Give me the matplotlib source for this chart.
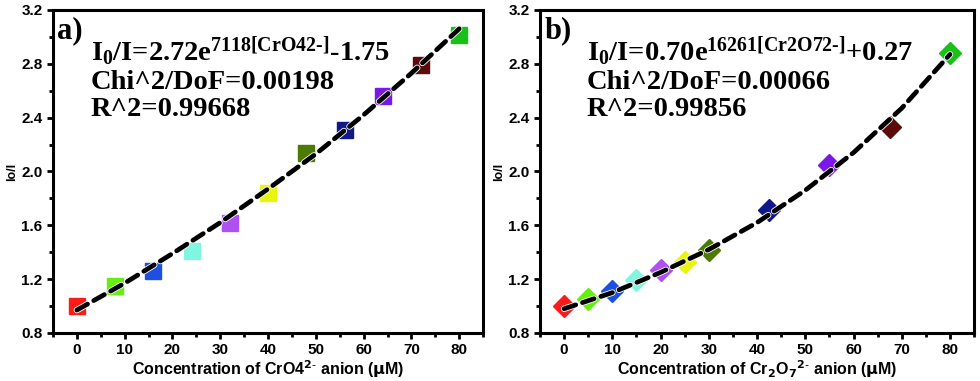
import matplotlib
matplotlib.use("Agg")
import matplotlib.pyplot as plt
import matplotlib.patheffects as pe

plt.rcParams["mathtext.fontset"] = "custom"
plt.rcParams["mathtext.rm"] = "Liberation Serif:bold"
plt.rcParams["mathtext.it"] = "Liberation Serif:bold:italic"
plt.rcParams["mathtext.bf"] = "Liberation Serif:bold"

# dados painel a) CrO4 2-
conc_a = [0, 8, 16, 24, 32, 40, 48, 56, 64, 72, 80]
ratio_a = [1.00, 1.15, 1.26, 1.41, 1.62, 1.84, 2.14, 2.31, 2.56, 2.79, 3.01]
fit_x_a = [0, 10, 20, 30, 40, 50, 60, 70, 80]
fit_y_a = [0.97, 1.17, 1.39, 1.62, 1.87, 2.13, 2.42, 2.73, 3.06]

# dados painel b) Cr2O7 2-
conc_b = [0, 5, 10, 15, 20, 25, 30, 42.5, 55, 67.5, 80]
ratio_b = [1.00, 1.05, 1.11, 1.19, 1.27, 1.33, 1.42, 1.71, 2.05, 2.33, 2.88]
fit_x_b = [0, 10, 20, 30, 40, 50, 60, 70, 80]
fit_y_b = [0.98, 1.10, 1.25, 1.42, 1.62, 1.86, 2.14, 2.47, 2.87]

cores = ["#ff1a1a", "#66ee10", "#1f4fe0", "#80f5e0", "#b050f0", "#e8f510",
         "#4d7a00", "#10188a", "#7a18e8", "#5c0a0a", "#18c018"]

painel_a = {
    "x": conc_a, "y": ratio_a, "fx": fit_x_a, "fy": fit_y_a, "marker": "s", "ms": 11,
    "tag": "a)", "tx": 0.088,
    "texto": "I$_0$/I=2.72e$^{\\mathrm{7118[CrO42\\text{-}]}}$-1.75\nChi^2/DoF=0.00198\nR^2=0.99668",
    "xlabel": r"Concentration of CrO4$^{\mathbf{2\text{-}}}$ anion ($\mathbf{\mu}$M)",
}
painel_b = {
    "x": conc_b, "y": ratio_b, "fx": fit_x_b, "fy": fit_y_b, "marker": "D", "ms": 11.5,
    "tag": "b)", "tx": 0.108,
    "texto": "I$_0$/I=0.70e$^{\\mathrm{16261[Cr2O72\\text{-}]}}$+0.27\nChi^2/DoF=0.00066\nR^2=0.99856",
    "xlabel": r"Concentration of Cr$_{\mathbf{2}}$O$_{\mathbf{7}}$$^{\mathbf{2\text{-}}}$ anion ($\mathbf{\mu}$M)",
}

fig = plt.figure(figsize=(9.8, 3.81), dpi=100)
ax_a = fig.add_axes([0.054, 0.126, 0.439, 0.848])
ax_b = fig.add_axes([0.551, 0.126, 0.443, 0.848])

for ax, p in [(ax_a, painel_a), (ax_b, painel_b)]:
    for xi, yi, c in zip(p["x"], p["y"], cores):
        ax.plot(xi, yi, marker=p["marker"], ms=p["ms"], color=c, mec=c, ls="none", zorder=2)
    ax.plot(p["fx"], p["fy"], color="black", lw=3.4, ls=(0, (2.6, 1.5)),
            dash_capstyle="round", zorder=3,
            path_effects=[pe.Stroke(linewidth=4.6, foreground="white"), pe.Normal()])

    ax.set_xlim(-5, 85)
    ax.set_ylim(0.8, 3.2)
    ax.set_xticks(range(0, 81, 10))
    ax.set_xticks(range(-5, 86, 10), minor=True)
    ax.set_yticks([0.8, 1.2, 1.6, 2.0, 2.4, 2.8, 3.2])
    ax.set_yticks([1.0, 1.4, 1.8, 2.2, 2.6, 3.0], minor=True)
    for s in ax.spines.values():
        s.set_linewidth(2.2)
    ax.tick_params(which="major", direction="out", length=4, width=2, labelsize=11)
    ax.tick_params(which="minor", direction="out", length=3, width=2)
    for lab in ax.get_xticklabels() + ax.get_yticklabels():
        lab.set_fontfamily("Liberation Sans")
        lab.set_fontweight("bold")

    ax.set_xlabel(p["xlabel"], fontfamily="Liberation Sans", fontweight="bold",
                  fontsize=11.5, math_fontfamily="dejavusans", labelpad=1)
    ax.set_ylabel("Io/I", fontfamily="Liberation Sans", fontweight="bold",
                  fontsize=9, labelpad=2)

    ax.text(0.01, 0.98, p["tag"], transform=ax.transAxes, ha="left", va="top",
            fontfamily="Liberation Serif", fontweight="bold", fontsize=22)
    ax.text(p["tx"], 0.925, p["texto"], transform=ax.transAxes,
            ha="left", va="top", fontfamily="Liberation Serif", fontweight="bold",
            fontsize=20.5, linespacing=1.12)

fig.savefig("out.png", dpi=100)
